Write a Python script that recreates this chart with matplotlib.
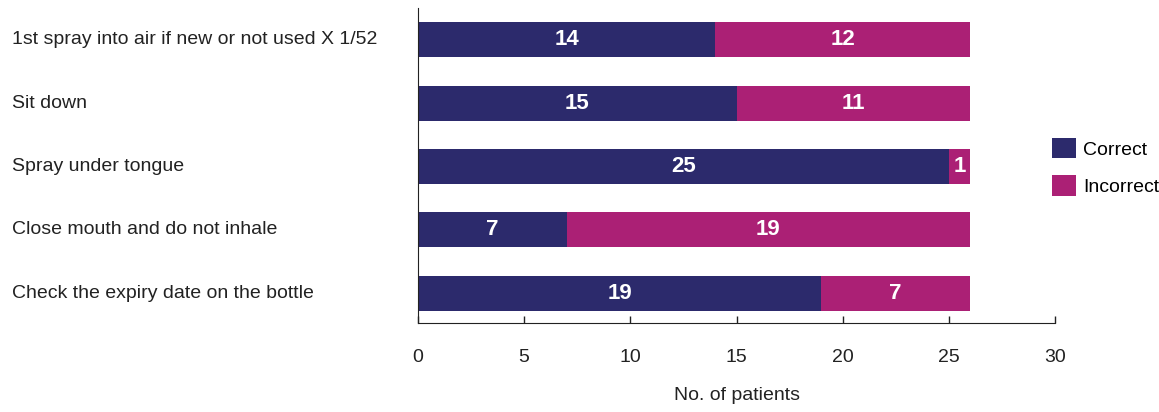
import numpy as np
import matplotlib.pyplot as plt
from matplotlib.transforms import blended_transform_factory

plt.rcParams['font.family'] = ['Liberation Sans', 'DejaVu Sans']

steps = [
    "1st spray into air if new or not used X 1/52",
    "Sit down",
    "Spray under tongue",
    "Close mouth and do not inhale",
    "Check the expiry date on the bottle",
]
correct = [14, 15, 25, 7, 19]
incorrect = [12, 11, 1, 19, 7]
xticks = [0, 5, 10, 15, 20, 25, 30]

navy = '#2c2a6c'
magenta = '#ab2075'
text_col = '#222222'

fig = plt.figure(figsize=(11.59, 4.12), dpi=100)
ax = fig.add_axes([418 / 1159, 1 - 323 / 412, (1055 - 418) / 1159, (323 - 8) / 412])

y = np.arange(len(steps))
b1 = ax.barh(y, correct, height=0.55, color=navy, label='Correct')
b2 = ax.barh(y, incorrect, left=correct, height=0.55, color=magenta, label='Incorrect')

for bars in (b1, b2):
    ax.bar_label(bars, label_type='center', color='white', fontsize=16, fontweight='bold')

ax.set_xlim(0, 30)
ax.set_ylim(4.47, -0.5)
ax.set_xticks(xticks)
ax.tick_params(axis='x', direction='in', length=5, width=1, pad=19, labelsize=14, colors=text_col)
ax.set_yticks([])

# category labels sit left-aligned at the figure's left edge
trans = blended_transform_factory(fig.transFigure, ax.transData)
for yi, s in zip(y, steps):
    ax.text(12 / 1159, yi, s, transform=trans, ha='left', va='center', fontsize=14, color=text_col)

ax.spines['top'].set_visible(False)
ax.spines['right'].set_visible(False)
ax.spines['left'].set_color(text_col)
ax.spines['bottom'].set_color(text_col)

ax.set_xlabel('No. of patients', fontsize=14, color=text_col, labelpad=15)

fig.legend(handles=[b1, b2], loc='center left', bbox_to_anchor=(1052 / 1159, 1 - 167 / 412),
           frameon=False, fontsize=14, handlelength=1.25, handleheight=1.25,
           handletextpad=0.35, labelspacing=0.85, borderaxespad=0, borderpad=0)

fig.savefig('out.png', dpi=100)
